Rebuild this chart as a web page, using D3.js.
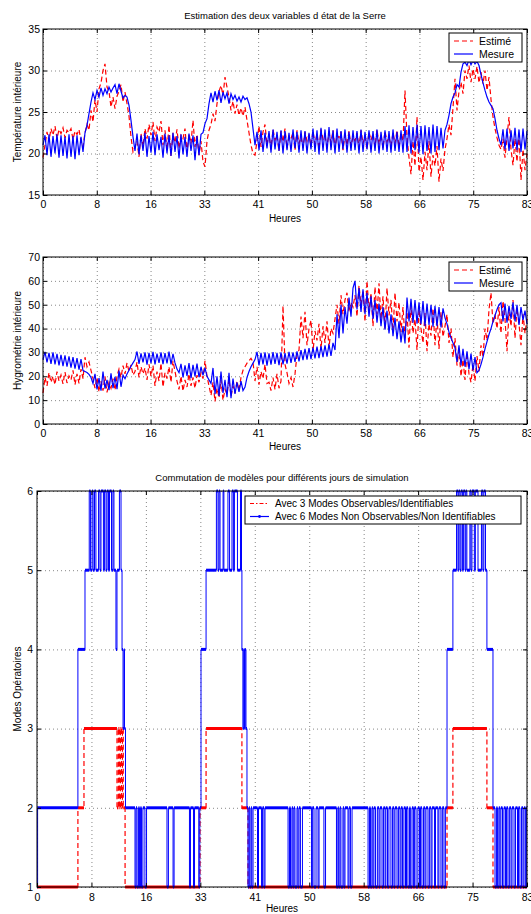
<!DOCTYPE html>
<html>
<head>
<meta charset="utf-8">
<script src="https://cdn.jsdelivr.net/npm/d3@7"></script>
<style>
  body { margin: 0; background: #fff; }
  svg { display: block; font-family: "Liberation Sans", Arial, Helvetica, sans-serif; }
  .grid line { stroke: #555; stroke-width: 0.7; stroke-dasharray: 1,3; }
  .grid path, .axis path { display: none; }
  .axis line { stroke: #000; }
  .axis text { font-size: 10.5px; fill: #000; }
</style>
</head>
<body>
<div id="chart"></div>
<script>
// tick labels along the time axis (evenly spaced in the original)
const hourLabels = ['0', '8', '16', '33', '41', '50', '58', '66', '75', '83'];

// interior temperature, one value per sample
const tempEstime = [
  19.5, 21.0, 22.6, 21.5, 23.0, 22.2, 23.3, 21.8, 22.9, 22.4, 23.1, 21.9, 22.8, 22.5, 23.0, 21.7, 22.7, 22.3, 22.9, 21.5, 20.8,
  22.5, 23.5, 22.8, 25.2, 23.8, 26.5, 25.0, 27.8, 28.5, 30.0, 30.8, 28.0, 27.5, 25.6, 26.8, 25.4, 26.9, 27.5, 28.3, 26.2, 27.4, 26.0, 24.5, 22.0, 20.2, 20.8,
  21.5, 19.6, 22.4, 20.8, 23.0, 21.8, 23.5, 22.2, 23.8, 21.5, 23.2, 22.6, 23.9, 21.0, 22.8, 20.4, 23.4, 19.7, 22.5, 21.3,
  22.9, 20.6, 22.2, 21.8, 23.0, 20.1, 22.4, 21.2, 24.0, 20.8, 22.3, 19.8, 21.5, 19.0,
  18.4, 21.5, 22.8, 23.5, 24.8, 23.9, 26.0, 27.5, 28.2, 27.0, 29.2, 28.0, 26.8, 25.2, 26.3, 24.8, 25.9, 24.6, 25.5, 24.5, 25.6, 24.0, 22.5, 21.0, 20.0, 19.8,
  21.5, 23.3, 20.8, 22.6, 23.5, 21.0, 22.4, 20.5, 22.9, 21.6, 22.2, 20.3, 22.7, 21.4, 23.0, 20.6, 22.1, 21.8, 22.5, 20.4,
  22.8, 21.2, 22.0, 20.7, 22.6, 21.5, 22.3, 20.9, 22.7, 21.1, 22.4, 20.5, 22.9, 21.7, 22.1, 20.8, 22.5, 21.3, 22.8, 20.6,
  22.2, 21.9, 22.6, 20.4, 22.3, 21.0, 22.7, 20.9, 22.0, 21.5, 22.5, 20.7, 22.8, 21.2, 22.1, 20.5, 22.6, 21.6, 22.4, 20.8,
  22.9, 21.1, 22.3, 20.6, 22.7, 21.4, 22.0, 20.9, 22.5, 21.2, 22.8, 20.7, 22.4, 21.5,
  27.6, 22.0, 19.5, 17.5, 21.5, 18.5, 24.4, 17.8, 19.6, 16.8, 20.2, 18.0, 21.5, 17.2, 19.8, 18.5, 20.9, 16.6, 19.4, 17.9, 20.5,
  21.8, 23.5, 22.2, 25.5, 29.0, 25.2, 27.5, 28.6, 27.2, 30.0, 29.0, 30.6, 28.6, 30.2, 29.0, 30.5, 28.5, 29.8, 28.4, 30.0,
  27.6, 29.2, 26.5, 24.4, 23.0, 21.9, 21.0, 20.5,
  21.8, 19.5, 22.0, 24.4, 20.5, 18.6, 21.8, 19.0, 22.3, 16.8, 20.5, 18.0, 20.0
];
const tempMesure = [
  21.0, 22.2, 19.8, 22.3, 19.6, 22.1, 20.0, 22.3, 19.5, 22.2, 19.7, 22.0, 19.4, 22.3, 19.6, 22.1, 19.3, 22.2, 19.8, 22.0, 20.2,
  22.5, 23.4, 24.8, 26.2, 27.3, 26.5, 27.6, 26.8, 27.9, 27.0, 27.8, 27.2, 28.0, 27.4, 27.9, 28.3, 27.2, 28.4, 27.5, 26.7, 27.0, 26.8, 25.8, 24.0, 22.0, 20.3,
  22.4, 19.9, 22.2, 20.3, 22.5, 19.6, 22.1, 20.1, 22.6, 19.8, 22.3, 20.4, 22.0, 19.5, 22.4, 20.0, 22.2, 19.7, 22.5, 20.2,
  22.1, 19.4, 22.3, 19.9, 22.0, 19.6, 22.4, 20.3, 22.2, 19.2, 22.1, 19.8, 22.3, 22.5,
  23.6, 24.2, 26.0, 27.3, 26.2, 27.5, 26.4, 27.6, 26.1, 27.4, 26.6, 27.3, 26.0, 27.2, 26.5, 27.0, 26.3, 26.8, 26.2, 26.9, 26.5, 26.7, 26.0, 25.0, 23.0, 21.0,
  22.6, 20.4, 22.8, 20.2, 22.5, 20.6, 22.7, 20.1, 22.9, 20.5, 22.6, 20.3, 22.8, 20.0, 22.7, 20.4, 22.5, 20.2, 22.9, 20.6,
  22.6, 20.1, 22.8, 20.3, 22.7, 20.0, 22.5, 20.5, 23.0, 20.2, 22.8, 19.9, 23.1, 20.3, 22.9, 20.1, 23.2, 20.4, 22.8, 20.0,
  23.0, 20.2, 22.7, 20.5, 22.9, 20.1, 22.6, 20.3, 22.8, 20.4, 22.7, 20.0, 22.9, 20.2, 22.6, 20.5, 22.8, 20.1, 22.7, 20.3,
  22.9, 20.0, 22.6, 20.4, 22.8, 20.2, 22.7, 20.1, 22.9, 20.3, 22.6, 20.2, 22.8, 20.1,
  23.3, 20.2, 23.4, 20.0, 23.2, 20.4, 23.5, 20.1, 23.3, 19.9, 23.4, 20.3, 23.2, 20.0, 23.5, 20.2, 23.3, 20.4, 23.1, 20.6, 22.8,
  23.5, 24.6, 26.0, 26.8, 27.3, 28.3, 28.0, 29.8, 30.8, 31.0, 30.6, 31.3, 30.7, 31.2, 30.8, 31.1, 30.6, 29.5, 28.5, 27.6,
  26.8, 26.2, 25.8, 25.4, 24.2, 22.8, 21.8, 21.0,
  22.9, 20.5, 23.0, 20.3, 22.8, 20.6, 23.1, 20.4, 22.9, 20.2, 23.0, 20.5, 22.7
];

// interior humidity, one value per sample
const humEstime = [
  13.0, 19.5, 16.0, 21.5, 17.5, 20.0, 16.5, 22.0, 18.0, 20.5, 16.8, 21.8, 17.2, 20.2, 18.5, 22.5, 16.5, 21.0, 17.0, 23.0, 19.0,
  28.0, 24.0, 26.0, 22.5, 19.0,
  15.0, 19.5, 13.5, 18.0, 14.0, 20.0, 13.2, 17.5, 15.0, 19.0, 14.2,
  20.0, 23.0, 19.5, 24.5, 21.0, 25.6, 22.0, 24.8, 20.5,
  22.0, 26.0, 19.5, 24.0, 21.0, 23.5, 18.5, 25.0, 20.0, 24.5, 16.0, 22.0, 18.0, 25.5, 15.5, 21.5, 19.0, 24.0, 17.5, 26.5, 22.0,
  18.0, 14.5, 20.0, 13.8, 18.5, 15.5, 21.0, 16.0, 19.5, 15.0, 20.5, 17.5, 21.5, 19.0,
  26.5, 20.0, 16.0,
  12.0, 17.5, 9.5, 15.0, 11.0, 18.5, 10.0, 14.5, 12.5, 19.0, 11.5, 16.0, 13.0, 18.0, 14.0,
  19.5, 22.5, 24.0, 25.5, 26.5, 27.5, 26.0,
  18.0, 24.0, 16.5, 22.0, 19.0, 25.0, 17.0,
  17.5, 14.0, 19.5, 14.5, 21.0, 15.0, 18.0,
  49.5, 25.0, 21.5, 17.0, 19.5, 15.5, 21.0, 29.0,
  31.0, 45.0, 36.0, 47.0, 33.0, 40.0, 43.5, 30.5, 39.0, 35.0, 42.0, 31.5, 41.0, 34.0, 43.0, 32.0, 40.0, 38.0,
  44.0, 50.0, 42.0, 54.0, 46.0, 52.0, 55.0, 47.0, 51.0, 49.0,
  54.0, 45.0, 58.0, 50.0, 56.0, 43.0, 60.0, 47.5, 55.0, 41.0, 57.5, 46.0, 59.0, 44.0, 53.5, 40.0, 57.0, 45.5, 52.0, 39.0,
  55.0, 43.0, 51.0, 38.5, 49.0,
  36.0, 47.0, 32.0, 49.5, 38.0, 44.0, 31.0, 48.0, 40.0, 34.0, 46.5, 30.5, 42.0, 37.0, 48.5, 33.0, 45.0, 31.5, 47.0, 36.5, 41.0,
  46.0, 34.0, 40.0, 28.0, 36.0, 24.5, 31.0,
  20.0, 27.0, 18.5, 30.0, 21.0, 17.5, 25.0, 18.0, 28.5,
  22.0, 33.0, 28.0, 40.0, 35.0, 48.0, 55.0, 42.0, 46.0, 40.0,
  49.0, 38.0, 51.5, 44.0, 30.5, 47.0, 41.0, 52.0, 36.0, 48.5, 42.0, 33.0, 46.0, 38.0, 44.0
];
const humMesure = [
  27.0, 30.2, 25.8, 29.8, 25.2, 30.0, 25.0, 29.4, 24.6, 29.0, 24.3, 28.8, 24.0, 28.4, 23.6, 28.0, 23.2, 27.6, 22.8, 27.2, 22.4,
  22.0, 21.6, 20.8, 19.5, 17.0,
  21.0, 14.5, 19.2, 14.0, 22.0, 14.8, 18.5, 14.2, 21.2, 15.0, 19.8, 14.6, 22.4, 15.6, 20.5,
  19.0, 21.0, 22.5, 24.2, 25.6, 27.0,
  30.4, 25.2, 29.6, 25.8, 30.0, 24.9, 29.8, 25.5, 30.2, 25.0, 29.5, 25.6, 30.0, 25.1, 29.7, 25.4, 30.3, 25.0, 29.4, 25.6,
  23.0, 21.5,
  25.2, 19.5, 24.6, 20.2, 25.5, 19.2, 24.8, 20.0, 25.3, 19.6, 24.0, 20.4, 23.5,
  20.0, 18.5, 17.0,
  23.5, 12.5, 20.0, 11.8, 22.0, 13.0, 18.5, 11.2, 21.5, 10.8, 19.0, 12.6, 17.5, 13.5, 18.0, 14.0,
  15.5, 19.5, 22.0, 24.0, 25.5, 27.0,
  30.2, 24.6, 29.8, 25.0, 30.0, 24.5, 29.6, 24.9, 30.1, 25.2, 29.8, 24.7, 30.0, 25.0, 29.7, 25.3, 30.2, 25.6, 30.0, 26.0, 30.4,
  26.2, 31.0, 26.8, 31.5, 27.0, 31.8, 27.2, 32.0, 27.5, 32.4, 27.6, 32.6, 28.0, 33.0, 28.2, 33.4, 28.5, 34.0,
  31.0, 46.0, 36.0, 50.0, 38.0, 49.0, 42.0, 53.0, 45.0, 57.0, 60.0,
  48.0, 57.0, 47.0, 56.5, 46.0, 55.0, 45.0, 53.5, 44.0, 52.0, 42.5, 50.5, 41.0, 49.0, 39.5, 47.5, 38.0, 46.0, 36.8, 44.5,
  35.5, 43.0, 34.2, 41.0, 33.8,
  53.0,
  43.0, 52.5, 42.5, 52.0, 42.0, 51.0, 41.8, 51.5, 41.0, 50.5, 41.5, 50.0, 40.8, 49.5, 41.0, 49.0, 40.5, 48.5,
  44.5, 42.0, 38.5, 36.0, 34.0, 32.0,
  26.0, 33.0, 24.5, 31.5, 24.0, 30.5, 23.0, 29.5, 22.5, 28.0, 21.5,
  22.5, 25.0, 28.0, 31.5, 34.5, 37.5, 40.0, 43.0, 45.5, 48.0, 50.0, 50.8,
  43.0, 50.5, 42.5, 49.5, 44.0, 51.0, 43.0, 50.0, 41.5, 49.0, 43.5, 47.5, 42.0
];

// operating mode switches: [sample, mode], the mode holds until the next entry
const modesRed = [
  [0, 1], [20.2, 2], [23.2, 3], [39.5, 2], [40.2, 3], [40.7, 2], [41.2, 3], [41.7, 2], [42.2, 3], [42.6, 2], [43.5, 1],
  [80.5, 2], [83.5, 3], [101.2, 2], [104.2, 1], [202.5, 2], [205.4, 3], [222.2, 2], [225.2, 1]
];
const modesBlue = [
  [0, 1], [0.3, 2], [20.2, 4], [23.7, 5],
  [25.8, 6], [26.4, 5], [27.2, 6], [27.7, 5], [28.4, 6], [29.1, 5], [30.4, 6], [31.1, 5], [31.6, 6], [32.8, 5],
  [33.3, 6], [34.1, 5], [34.6, 6], [35.3, 5], [35.8, 6], [36.8, 5], [37.5, 6], [38.0, 5],
  [39.0, 4], [39.5, 5], [40.7, 6], [41.5, 5], [42.0, 4], [42.5, 3], [43.0, 4], [43.2, 3], [43.7, 2],
  [48.4, 1], [48.9, 2], [49.4, 1], [50.1, 2], [50.6, 1], [51.1, 2], [51.6, 1], [52.3, 2], [53.3, 1], [54.1, 2],
  [64.2, 1], [64.9, 2], [67.2, 1], [67.7, 2], [75.3, 1], [75.8, 2], [77.3, 1], [77.8, 2], [79.9, 1], [80.4, 2],
  [81.0, 4], [83.5, 5],
  [88.6, 6], [89.4, 5], [89.9, 6], [90.4, 5], [91.9, 6], [92.3, 5], [94.3, 6], [95.1, 5], [96.3, 6], [97.0, 5],
  [97.5, 6], [99.0, 5], [100.5, 6], [101.0, 5],
  [101.2, 4], [101.7, 3], [102.1, 4], [102.5, 3], [102.8, 4], [103.2, 3], [103.7, 2],
  [104.2, 1], [104.7, 2], [105.1, 1], [105.7, 2], [106.1, 1], [106.7, 2], [108.9, 1], [109.4, 2], [110.9, 1], [111.4, 2],
  [112.1, 1], [112.6, 2],
  [124.0, 1], [124.7, 2], [125.2, 1], [125.9, 2], [126.4, 1], [126.9, 2], [127.4, 1], [128.4, 2], [128.9, 1], [129.4, 2],
  [130.1, 1], [131.1, 2],
  [135.6, 1], [136.0, 2], [136.8, 1], [137.8, 2], [138.8, 1], [139.3, 2], [141.7, 1], [142.5, 2],
  [147.9, 1], [148.6, 2], [149.0, 1], [149.6, 2], [150.1, 1], [151.1, 2], [151.6, 1], [152.1, 2], [153.6, 1], [154.1, 2],
  [154.8, 1], [155.6, 2],
  [163.5, 1], [164.2, 2], [164.7, 1], [165.4, 2], [165.9, 1], [166.4, 2], [167.2, 1], [168.1, 2], [168.9, 1], [169.4, 2],
  [170.4, 1], [171.1, 2], [171.9, 1], [172.3, 2], [173.1, 1], [173.8, 2], [174.8, 1], [175.6, 2], [176.3, 1], [176.8, 2],
  [177.8, 1], [178.5, 2], [179.3, 1], [179.8, 2], [180.5, 1], [181.2, 2],
  [182.0, 1], [182.5, 2], [183.2, 1], [184.0, 2], [184.4, 1], [185.2, 2], [185.9, 1], [186.4, 2], [187.2, 1], [188.1, 2],
  [188.9, 1], [189.4, 2], [190.1, 1], [190.9, 2], [191.6, 1], [192.1, 2], [193.1, 1], [193.8, 2], [194.6, 1], [195.1, 2],
  [196.3, 1], [196.8, 2], [198.0, 1], [198.5, 2], [199.5, 1], [200.2, 2], [201.0, 1], [201.7, 2],
  [202.5, 4], [205.4, 5],
  [207.2, 6], [207.9, 5], [208.3, 6], [208.9, 5], [209.4, 6], [210.1, 5], [210.6, 6], [211.4, 5], [211.8, 6], [212.3, 5],
  [213.8, 6], [214.3, 5], [214.8, 6], [216.0, 5], [216.5, 6], [217.8, 5], [219.5, 6], [220.2, 5], [220.7, 6], [221.5, 5],
  [222.2, 4], [225.2, 2],
  [226.2, 1], [226.9, 2], [227.4, 1], [228.1, 2], [228.6, 1], [229.1, 2], [229.9, 1], [230.6, 2], [231.4, 1], [231.9, 2],
  [232.6, 1], [233.3, 2], [234.1, 1], [234.6, 2], [235.6, 1], [236.3, 2], [237.3, 1], [237.8, 2], [238.5, 1], [239.3, 2],
  [240.0, 1], [240.5, 2], [241.2, 1], [241.7, 2]
];

const N = 243;   // samples over the whole simulation
const W = 531, H = 914;
const RED = '#ff0000', BLUE = '#0000ff';

const svg = d3.select('#chart').append('svg')
    .attr('width', W)
    .attr('height', H);

class Panel {

    constructor(opts) {
        // box is the inner plotting frame in px
        this.opts = opts;
        this.box = opts.box;
        this.draw();
    }

    draw() {
        this.g = svg.append('g');
        this.createScales();
        this.addGrid();
        // data goes under the frame and ticks
        this.opts.marks(this);
        this.addAxes();
        this.addLabels();
        if (this.opts.legend) this.addLegend(this.opts.legend);
    }

    createScales() {
        const b = this.box;
        this.x = d3.scaleLinear()
            .domain([0, N - 1])
            .range([b.left, b.right]);
        this.y = d3.scaleLinear()
            .domain(this.opts.yDomain)
            .range([b.bottom, b.top]);
        this.xTicks = hourLabels.map((d, k) => k * (N - 1) / (hourLabels.length - 1));
    }

    addGrid() {
        const b = this.box;
        this.g.append('g')
            .attr('class', 'grid')
            .attr('transform', `translate(0,${b.bottom})`)
            .call(d3.axisBottom(this.x).tickValues(this.xTicks).tickSize(-(b.bottom - b.top)).tickFormat(''));
        this.g.append('g')
            .attr('class', 'grid')
            .attr('transform', `translate(${b.left},0)`)
            .call(d3.axisLeft(this.y).tickValues(this.opts.yTicks).tickSize(-(b.right - b.left)).tickFormat(''));
    }

    addAxes() {
        const b = this.box;
        const yTicks = this.opts.yTicks;

        this.g.append('rect')
            .attr('x', b.left)
            .attr('y', b.top)
            .attr('width', b.right - b.left)
            .attr('height', b.bottom - b.top)
            .attr('fill', 'none')
            .attr('stroke', '#000');

        // matlab style: ticks point inward, on all four sides
        this.g.append('g')
            .attr('class', 'axis')
            .attr('transform', `translate(0,${b.bottom})`)
            .call(d3.axisBottom(this.x).tickValues(this.xTicks)
                .tickFormat((d, i) => hourLabels[i])
                .tickSizeInner(-4).tickSizeOuter(0).tickPadding(this.opts.xPad || 6));
        this.g.append('g')
            .attr('class', 'axis')
            .attr('transform', `translate(0,${b.top})`)
            .call(d3.axisTop(this.x).tickValues(this.xTicks).tickFormat('').tickSizeInner(-4).tickSizeOuter(0));
        this.g.append('g')
            .attr('class', 'axis')
            .attr('transform', `translate(${b.left},0)`)
            .call(d3.axisLeft(this.y).tickValues(yTicks).tickFormat(d3.format('d'))
                .tickSizeInner(-4).tickSizeOuter(0).tickPadding(this.opts.yPad || 3));
        this.g.append('g')
            .attr('class', 'axis')
            .attr('transform', `translate(${b.right},0)`)
            .call(d3.axisRight(this.y).tickValues(yTicks).tickFormat('').tickSizeInner(-4).tickSizeOuter(0));
    }

    addLabels() {
        const b = this.box;
        const cx = (b.left + b.right) / 2;
        const cy = (b.top + b.bottom) / 2;
        if (this.opts.title) {
            this.g.append('text')
                .attr('x', cx).attr('y', this.opts.titleY)
                .attr('text-anchor', 'middle')
                .style('font-size', '9.5px')
                .text(this.opts.title);
        }
        this.g.append('text')
            .attr('x', cx).attr('y', this.opts.xLabelY)
            .attr('text-anchor', 'middle')
            .style('font-size', '10px')
            .text('Heures');
        this.g.append('text')
            .attr('transform', `translate(21,${cy}) rotate(-90)`)
            .attr('text-anchor', 'middle')
            .style('font-size', '10px')
            .text(this.opts.yLabel);
    }

    addLegend(lg) {
        const lgG = this.g.append('g');
        lgG.append('rect')
            .attr('x', lg.x).attr('y', lg.y)
            .attr('width', lg.w).attr('height', lg.h)
            .attr('fill', '#fff')
            .attr('stroke', '#000');
        lg.items.forEach((it, i) => {
            const yy = lg.y + lg.first + i * lg.step;
            lgG.append('line')
                .attr('x1', lg.x + 5).attr('x2', lg.x + 24)
                .attr('y1', yy).attr('y2', yy)
                .attr('stroke', it.color)
                .attr('stroke-width', 1.2)
                .attr('stroke-dasharray', it.dash || null);
            if (it.dot) {
                lgG.append('circle')
                    .attr('cx', lg.x + 14.5).attr('cy', yy).attr('r', 1.4)
                    .attr('fill', it.color);
            }
            lgG.append('text')
                .attr('x', lg.x + 30).attr('y', yy + 3.6)
                .style('font-size', lg.font)
                .text(it.label);
        });
    }
}

// two noisy series, dashed estimate under the measurement
function drawPair(p, est, mes) {
    const line = arr => d3.line()
        .x((d, i) => p.x(i * (N - 1) / (arr.length - 1)))
        .y(d => p.y(d))(arr);
    p.g.append('path')
        .attr('d', line(est))
        .attr('fill', 'none')
        .attr('stroke', RED)
        .attr('stroke-width', 1.2)
        .attr('stroke-dasharray', '5,3');
    p.g.append('path')
        .attr('d', line(mes))
        .attr('fill', 'none')
        .attr('stroke', BLUE)
        .attr('stroke-width', 1.2);
}

// step curve with the thick sample markers on each level
function drawModes(p, changes, color, dash) {
    const last = changes[changes.length - 1];
    const pts = changes.concat([[N - 1, last[1]]]);
    p.g.append('path')
        .attr('d', d3.line().curve(d3.curveStepAfter)
            .x(d => p.x(d[0]))
            .y(d => p.y(d[1]))(pts))
        .attr('fill', 'none')
        .attr('stroke', color)
        .attr('stroke-width', dash ? 1.2 : 1)
        .attr('stroke-dasharray', dash || null);
    const segs = changes.map((c, i) => ({ x0: c[0], x1: pts[i + 1][0], m: c[1] }));
    p.g.append('g')
        .selectAll('line')
        .data(segs)
        .join('line')
        .attr('x1', d => p.x(d.x0))
        .attr('x2', d => p.x(d.x1))
        .attr('y1', d => p.y(d.m))
        .attr('y2', d => p.y(d.m))
        .attr('stroke', color)
        .attr('stroke-width', 3);
}

new Panel({
    box: { left: 43, right: 527, top: 29, bottom: 195 },
    yDomain: [15, 35],
    yTicks: [15, 20, 25, 30, 35],
    title: 'Estimation des deux variables d état de la Serre',
    titleY: 19,
    xLabelY: 222,
    yLabel: 'Température intérieure',
    marks: p => drawPair(p, tempEstime, tempMesure),
    legend: {
        x: 449, y: 33, w: 73, h: 29, first: 8, step: 13, font: '10.5px',
        items: [
            { label: 'Estimé', color: RED, dash: '5,3' },
            { label: 'Mesure', color: BLUE }
        ]
    }
});

new Panel({
    box: { left: 43, right: 527, top: 257, bottom: 424 },
    yDomain: [0, 70],
    yTicks: [0, 10, 20, 30, 40, 50, 60, 70],
    xLabelY: 450,
    yLabel: 'Hygrométrie intérieure',
    marks: p => drawPair(p, humEstime, humMesure),
    legend: {
        x: 449, y: 262, w: 73, h: 29, first: 8, step: 13, font: '10.5px',
        items: [
            { label: 'Estimé', color: RED, dash: '5,3' },
            { label: 'Mesure', color: BLUE }
        ]
    }
});

new Panel({
    box: { left: 37, right: 527, top: 491, bottom: 887 },
    yDomain: [1, 6],
    yTicks: [1, 2, 3, 4, 5, 6],
    yPad: 4,
    xPad: 7,
    title: 'Commutation de modèles pour différents jours de simulation',
    titleY: 481,
    xLabelY: 912,
    yLabel: 'Modes Opératoires',
    marks: p => {
        drawModes(p, modesRed, RED, '5,3');
        drawModes(p, modesBlue, BLUE, null);
    },
    legend: {
        x: 245, y: 496, w: 276, h: 28, first: 7.5, step: 13, font: '10px',
        items: [
            { label: 'Avec 3 Modes Observables/Identifiables', color: RED, dash: '4,2,1.5,2' },
            { label: 'Avec 6 Modes Non Observables/Non Identifiables', color: BLUE, dot: true }
        ]
    }
});
</script>
</body>
</html>
